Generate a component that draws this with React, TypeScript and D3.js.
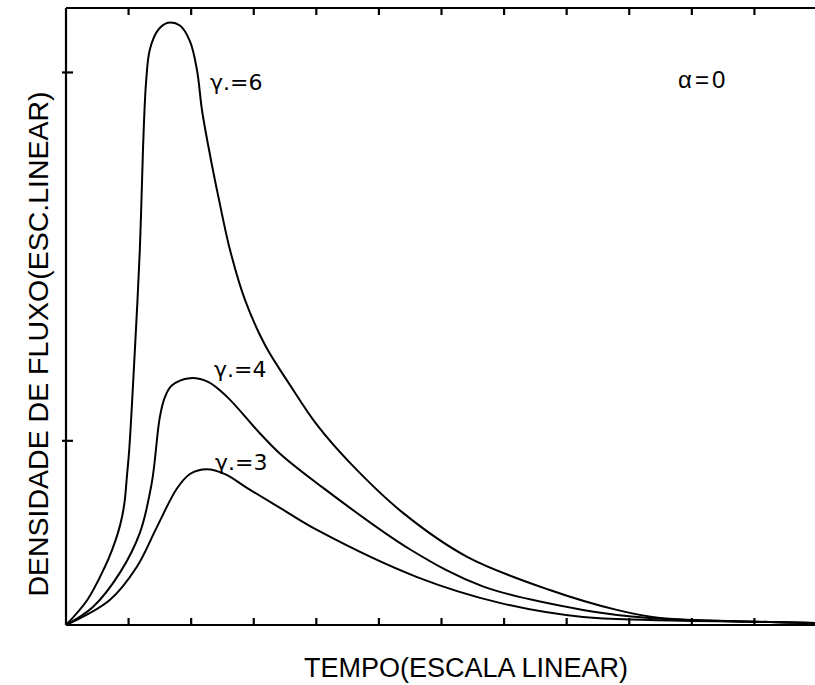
import React from "react";
import * as d3 from "d3";

// tick positions (arbitrary linear units)
const xTicks = [1, 2, 3, 4, 5, 6, 7, 8, 9, 10, 11];
const yTicks = [1, 3];

// [tempo, densidade] pairs for each curve
const gamma6: [number, number][] = [
  [0, 0], [0.34, 0.136], [0.62, 0.315], [0.735, 0.407], [0.83, 0.5], [0.895, 0.586],
  [0.94, 0.68], [0.975, 0.814], [1.01, 0.95], [1.1, 1.49], [1.18, 2.04], [1.23, 2.58],
  [1.28, 2.95], [1.34, 3.125], [1.47, 3.23], [1.63, 3.27], [1.82, 3.255], [1.98, 3.17],
  [2.093, 3.013], [2.173, 2.796], [2.301, 2.552], [2.445, 2.308], [2.621, 2.036],
  [2.86, 1.765], [3.18, 1.52], [3.579, 1.303], [4.011, 1.086], [4.538, 0.88],
  [5.38, 0.61], [6.41, 0.37], [7.73, 0.19], [8.8, 0.082], [9.49, 0.038],
  [11.25, 0.016], [12, 0.011],
];
const gamma4: [number, number][] = [
  [0, 0], [0.43, 0.098], [0.86, 0.283], [1.18, 0.5], [1.37, 0.77], [1.5, 1.13],
  [1.582, 1.238], [1.69, 1.3], [1.98, 1.34], [2.27, 1.32], [2.57, 1.24], [3.1, 1.04],
  [3.42, 0.93], [4.01, 0.77], [5.5, 0.41], [6.66, 0.21], [8.26, 0.082], [9.33, 0.038],
  [11.25, 0.016], [12, 0.011],
];
const gamma3: [number, number][] = [
  [0, 0], [0.7, 0.136], [1.13, 0.315], [1.45, 0.53], [1.77, 0.74], [1.981, 0.82],
  [2.25, 0.846], [2.55, 0.818], [2.89, 0.745], [3.42, 0.636], [4.01, 0.516],
  [5.61, 0.26], [6.93, 0.12], [8.26, 0.043], [9.33, 0.027], [11.25, 0.016],
  [12, 0.011],
];

const curveLabels = [
  { text: "γ.=6", at: [2.3, 2.905] },
  { text: "γ.=4", at: [2.365, 1.346] },
  { text: "γ.=3", at: [2.38, 0.842] },
];

const W = 815;
const H = 685;

export default function App() {
  const x = d3.scaleLinear().domain([0, 12]).range([66, 817]);
  const y = d3.scaleLinear().domain([0, 3.35]).range([625, 8]);

  const line = d3
    .line<[number, number]>()
    .x((d) => x(d[0]))
    .y((d) => y(d[1]))
    .curve(d3.curveCatmullRom.alpha(0.5));

  const font = "'Liberation Sans', Arial, sans-serif";
  const x0 = x(0);
  const y0 = y(0);
  const yTop = y(3.35);

  return (
    <svg
      width={W}
      height={H}
      style={{ position: "absolute", left: 0, top: 0, background: "#fff" }}
    >
      {/* frame: left side, top and bottom run off the right edge */}
      <g stroke="#000" strokeWidth={2.2} fill="none">
        <line x1={x0} y1={yTop} x2={x0} y2={y0} />
        <line x1={x0} y1={yTop} x2={W} y2={yTop} />
        <line x1={x0} y1={y0} x2={W} y2={y0} />
        {xTicks.map((t) => (
          <g key={t}>
            <line x1={x(t)} x2={x(t)} y1={y0} y2={y0 - 7} />
            <line x1={x(t)} x2={x(t)} y1={yTop} y2={yTop + 7} />
          </g>
        ))}
        {yTicks.map((t) => (
          <line key={t} x1={x0 - 4} x2={x0 + 7} y1={y(t)} y2={y(t)} />
        ))}
      </g>

      {/* curves */}
      <g stroke="#000" strokeWidth={2} fill="none">
        <path d={line(gamma6) || ""} />
        <path d={line(gamma4) || ""} />
        <path d={line(gamma3) || ""} />
      </g>

      {curveLabels.map((l) => (
        <text
          key={l.text}
          x={x(l.at[0])}
          y={y(l.at[1])}
          fontFamily="'DejaVu Sans', sans-serif"
          fontSize={22}
          fill="#000"
        >
          {l.text}
        </text>
      ))}

      <text
        x={678}
        y={88}
        fontFamily={font}
        fontSize={24}
        letterSpacing={3}
        fill="#000"
      >
        α=0
      </text>

      <text
        x={466}
        y={677}
        textAnchor="middle"
        fontFamily={font}
        fontSize={27}
        fill="#000"
      >
        TEMPO(ESCALA LINEAR)
      </text>
      <text
        transform="translate(48,344) rotate(-90)"
        textAnchor="middle"
        fontFamily={font}
        fontSize={28.5}
        fill="#000"
      >
        DENSIDADE DE FLUXO(ESC.LINEAR)
      </text>
    </svg>
  );
}
